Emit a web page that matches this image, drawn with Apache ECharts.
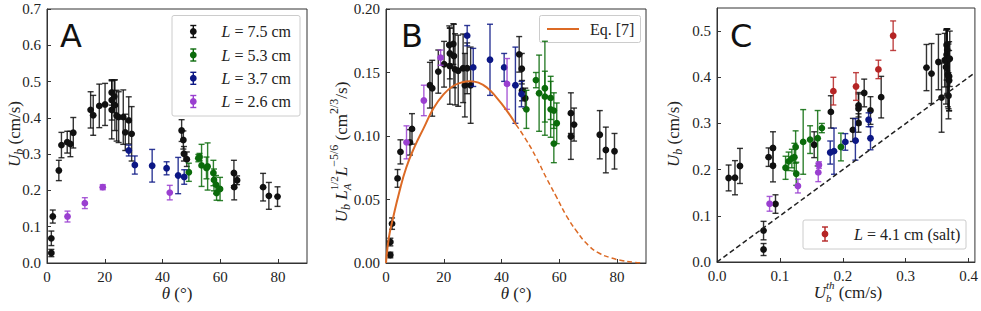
<!DOCTYPE html>
<html><head><meta charset="utf-8">
<script src="https://cdn.jsdelivr.net/npm/echarts@6/dist/echarts.min.js"></script>
<style>html,body{margin:0;padding:0;background:#fff}#c{width:981px;height:311px}</style>
</head><body><div id="c"></div>
<script>
// ---------- Panel A: U_b vs theta ----------
const aBlackTheta = [1.5,1.5,2.0,4.1,5.0,7.0,8.1,9.1,15.1,16.0,18.1,20.1,22.4,22.4,22.4,23.3,23.5,24.1,24.8,26.4,27.1,28.3,29.3,46.6,47.2,47.4,48.4,64.7,64.8,65.8,74.8,76.8,79.8];
const aBlackUb    = [0.0275,0.068,0.128,0.255,0.325,0.333,0.328,0.359,0.422,0.407,0.433,0.437,0.470,0.449,0.422,0.459,0.435,0.406,0.402,0.402,0.360,0.393,0.356,0.365,0.339,0.301,0.286,0.248,0.209,0.228,0.209,0.185,0.183];
const aBlackErr   = [0.010,0.020,0.018,0.028,0.035,0.030,0.035,0.042,0.050,0.055,0.060,0.058,0.035,0.055,0.080,0.045,0.070,0.070,0.070,0.075,0.050,0.065,0.075,0.030,0.025,0.020,0.020,0.035,0.035,0.012,0.038,0.037,0.027];
const aGreenTheta = [49.1,52.4,52.8,53.5,55.2,55.6,57.6,57.8,58.5,58.7,59.9];
const aGreenUb    = [0.250,0.289,0.292,0.269,0.262,0.266,0.248,0.229,0.216,0.193,0.204];
const aGreenErr   = [0.025,0.010,0.010,0.058,0.030,0.065,0.035,0.030,0.025,0.020,0.032];
const aBlueTheta  = [28.3,30.4,36.4,41.4,45.4,47.5];
const aBlueUb     = [0.310,0.270,0.268,0.261,0.241,0.237];
const aBlueErr    = [0.015,0.025,0.045,0.018,0.050,0.020];
const aPurpleTheta= [7.1,13.1,19.3,42.5];
const aPurpleUb   = [0.128,0.165,0.209,0.194];
const aPurpleErr  = [0.015,0.015,0.007,0.020];

// ---------- Panel B: scaled velocity vs theta ----------
const bBlackTheta = [1.5,1.5,2.1,4.0,5.0,8.3,9.0,15.2,16.0,18.1,20.1,21.9,22.1,22.1,23.3,23.5,23.9,25.0,26.7,27.3,28.1,29.3,46.1,47.0,47.1,48.2,64.0,64.0,65.1,74.0,76.1,79.1];
const bBlackVal   = [0.0063,0.0165,0.031,0.0666,0.0875,0.095,0.1056,0.140,0.1376,0.1507,0.1565,0.1717,0.165,0.155,0.1724,0.163,0.1525,0.1514,0.1533,0.140,0.1533,0.140,0.1643,0.153,0.1357,0.1297,0.118,0.0996,0.109,0.101,0.089,0.088];
const bBlackErr   = [0.0022,0.003,0.0045,0.007,0.0095,0.010,0.012,0.018,0.022,0.017,0.018,0.015,0.020,0.030,0.016,0.025,0.028,0.028,0.027,0.025,0.020,0.030,0.014,0.012,0.008,0.008,0.016,0.018,0.013,0.019,0.018,0.014];
const bGreenTheta = [48.6,51.9,53.0,55.0,55.0,57.0,57.0,58.1,58.1,59.1];
const bGreenVal   = [0.121,0.144,0.1337,0.1376,0.131,0.130,0.121,0.120,0.094,0.110];
const bGreenErr   = [0.015,0.006,0.030,0.037,0.020,0.017,0.022,0.014,0.015,0.016];
const bBlueTheta  = [28.1,30.2,36.0,40.9,44.8,46.9];
const bBlueVal    = [0.179,0.154,0.160,0.154,0.140,0.133];
const bBlueErr    = [0.008,0.015,0.028,0.011,0.030,0.010];
const bPurpleTheta= [7.1,13.1,18.9,41.9];
const bPurpleVal  = [0.095,0.128,0.1617,0.141];
const bPurpleErr  = [0.013,0.012,0.006,0.020];
// Eq. [7] curve (solid up to 45 deg, dashed beyond)
const eqSolidTheta = [0,1,2.5,4.5,7,10,13,16.5,20,23,26,29,32,35,38,41.5,45];
const eqSolidVal   = [0,0.020,0.036,0.055,0.075,0.092,0.106,0.122,0.133,0.139,0.142,0.1432,0.142,0.138,0.131,0.121,0.109];
const eqDashTheta  = [45,48.5,52,55.5,59,62.5,66,70,74,78,82,86,89];
const eqDashVal    = [0.109,0.097,0.083,0.067,0.052,0.037,0.025,0.014,0.0075,0.004,0.0018,0.0005,0];

// ---------- Panel C: U_b vs U_b^th ----------
const cBlackX  = [0.0185,0.0286,0.0365,0.074,0.074,0.082,0.089,0.089,0.093,0.1545,0.181,0.216,0.225,0.225,0.225,0.234,0.244,0.261,0.333,0.341,0.352,0.362,0.365,0.365,0.364,0.366,0.366,0.367,0.368,0.369,0.368,0.369,0.357,0.370];
const cBlackY  = [0.182,0.1825,0.208,0.068,0.027,0.227,0.247,0.2085,0.1255,0.254,0.325,0.286,0.339,0.332,0.301,0.366,0.328,0.357,0.421,0.408,0.433,0.437,0.470,0.449,0.422,0.459,0.435,0.406,0.402,0.402,0.360,0.393,0.356,0.440];
const cBlackE  = [0.028,0.037,0.038,0.020,0.013,0.020,0.035,0.035,0.020,0.028,0.035,0.025,0.025,0.035,0.020,0.030,0.030,0.045,0.050,0.065,0.060,0.058,0.035,0.055,0.080,0.045,0.070,0.070,0.070,0.075,0.050,0.065,0.075,0.060];
const cGreenX  = [0.109,0.1138,0.119,0.123,0.125,0.126,0.137,0.148,0.160,0.1667,0.197];
const cGreenY  = [0.204,0.218,0.224,0.227,0.249,0.191,0.260,0.265,0.268,0.290,0.249];
const cGreenE  = [0.025,0.020,0.020,0.030,0.035,0.025,0.070,0.030,0.060,0.010,0.030];
const cBlueX   = [0.180,0.186,0.204,0.220,0.241,0.244];
const cBlueY   = [0.237,0.240,0.260,0.2655,0.308,0.268];
const cBlueE   = [0.025,0.050,0.018,0.045,0.015,0.025];
const cPurpleX = [0.0836,0.1286,0.161,0.162];
const cPurpleY = [0.126,0.1645,0.194,0.210];
const cPurpleE = [0.016,0.015,0.020,0.007];
const cRedX    = [0.185,0.221,0.2566,0.280];
const cRedY    = [0.370,0.380,0.417,0.490];
const cRedE    = [0.030,0.030,0.020,0.032];
const refLineX = [0, 0.41];
const refLineY = [0, 0.41];

// ---------- tick settings ----------
const thetaTicks = {min:0, max:90, interval:20};
const aYTicks = {min:0, max:0.7, interval:0.1};
const bYTicks = {min:0, max:0.2, interval:0.05};
const cXTicks = {min:0, max:0.41, interval:0.1};
const cYTicks = {min:0, max:0.55, interval:0.1};

const COL = {black:'#111111', green:'#0b6b0b', blue:'#0c1785', purple:'#9a3fd0', red:'#b52424', orange:'#dc6a25'};
const SERIF = 'Liberation Serif';

const chart = echarts.init(document.getElementById('c'), null, {renderer:'svg'});

function errSeries(name, color, xs, ys, es, idx) {
  return {
    type:'custom', name, xAxisIndex: idx, yAxisIndex: idx,
    data: xs.map((x,i)=>[x, ys[i], es[i]]),
    encode:{x:0, y:1},
    renderItem(params, api) {
      const x = api.value(0), y = api.value(1), e = api.value(2);
      const c = api.coord([x,y]), lo = api.coord([x,y-e]), hi = api.coord([x,y+e]);
      const ls = {stroke:color, lineWidth:1.4, opacity:0.85};
      return {type:'group', children:[
        {type:'line', shape:{x1:c[0],y1:lo[1],x2:c[0],y2:hi[1]}, style:ls},
        {type:'line', shape:{x1:c[0]-3,y1:lo[1],x2:c[0]+3,y2:lo[1]}, style:ls},
        {type:'line', shape:{x1:c[0]-3,y1:hi[1],x2:c[0]+3,y2:hi[1]}, style:ls},
        {type:'circle', shape:{cx:c[0],cy:c[1],r:3.4}, style:{fill:color}}
      ]};
    }
  };
}
function lineSeries(name, color, xs, ys, idx, dashed, width) {
  return {type:'line', name, xAxisIndex:idx, yAxisIndex:idx, data: xs.map((x,i)=>[x, ys[i]]),
    showSymbol:false, symbol:'none', smooth:true, silent:true,
    lineStyle:{color, width, type: dashed ? [5,3] : 'solid'}};
}

const labelStyle = {fontFamily:SERIF, fontSize:15, color:'#222', margin:6};
const axisCommon = {
  type:'value',
  axisLine:{show:true, onZero:false, lineStyle:{color:'#333', width:1}},
  axisTick:{show:true, inside:true, length:4, lineStyle:{color:'#333', width:1}},
  splitLine:{show:false}
};
function ax(idx, ticks, dec, hideMax) {
  return Object.assign({}, axisCommon, ticks, {gridIndex:idx,
    axisLabel:Object.assign({}, labelStyle, {formatter: v => v.toFixed(dec), showMaxLabel: !hideMax})});
}

// text helper: tokens laid out in a row (sub/superscripts via dy, stacked via stack)
const mctx = document.createElement('canvas').getContext('2d');
function mathText(tokens, px, py, opts) {
  opts = opts || {};
  let x = 0, prevStart = 0, prevW = 0; const items = [];
  for (const t of tokens) {
    const size = t.s || 17;
    mctx.font = (t.i ? 'italic ' : '') + size + 'px "Liberation Serif"';
    const w = mctx.measureText(t.t).width;
    let start;
    if (t.stack) { start = prevStart; x = prevStart + Math.max(prevW, w); }
    else { start = x; x += w; }
    items.push({start, t, size}); prevStart = start; prevW = w;
  }
  const off = opts.align === 'left' ? 0 : -x/2;
  return {type:'group', x:px, y:py, rotation: opts.rot || 0, silent:true,
    children: items.map(it => ({type:'text', x: it.start + off, y: it.t.dy || 0,
      style:{text: it.t.t, fontSize: it.size, fontStyle: it.t.i ? 'italic' : 'normal', fontFamily: SERIF,
        fill:'#222', textAlign:'left', textVerticalAlign:'middle', align:'left', verticalAlign:'middle'}}))};
}
function glyph(x, y, color, half) {
  const ls = {stroke:color, lineWidth:1.4};
  return {type:'group', silent:true, children:[
    {type:'line', shape:{x1:x,y1:y-half,x2:x,y2:y+half}, style:ls},
    {type:'line', shape:{x1:x-3,y1:y-half,x2:x+3,y2:y-half}, style:ls},
    {type:'line', shape:{x1:x-3,y1:y+half,x2:x+3,y2:y+half}, style:ls},
    {type:'circle', shape:{cx:x,cy:y,r:3.4}, style:{fill:color}}]};
}
function panelLetter(t, x, y) {
  return {type:'text', x, y, silent:true, style:{text:t, fontSize:32, fontFamily:'DejaVu Sans', fill:'#111', textVerticalAlign:'middle', verticalAlign:'middle'}};
}
const legendA = [['7.5',COL.black],['5.3',COL.green],['3.7',COL.blue],['2.6',COL.purple]];
const legendRows = [31.5, 55, 78.3, 101.5];

const graphics = [
  {type:'rect', shape:{x:172, y:15.5, width:128, height:100.5, r:2}, style:{fill:'rgba(255,255,255,0.8)', stroke:'#cccccc', lineWidth:1}, silent:true},
  ...legendA.map((l,i)=>glyph(193.3, legendRows[i], l[1], 6)),
  ...legendA.map((l,i)=>mathText([{t:'L', i:true, s:16},{t:' = '+l[0]+' cm', s:16}], 221.5, legendRows[i], {align:'left'})),
  {type:'rect', shape:{x:539.5, y:15.5, width:101, height:27, r:2}, style:{fill:'rgba(255,255,255,0.8)', stroke:'#cccccc', lineWidth:1}, silent:true},
  {type:'line', shape:{x1:547, y1:29, x2:579, y2:29}, style:{stroke:COL.orange, lineWidth:2}, silent:true},
  mathText([{t:'Eq. [7]', s:16}], 590, 29, {align:'left'}),
  {type:'rect', shape:{x:803, y:220, width:163, height:29, r:2}, style:{fill:'rgba(255,255,255,0.8)', stroke:'#cccccc', lineWidth:1}, silent:true},
  glyph(825, 234, COL.red, 7),
  mathText([{t:'L', i:true, s:16},{t:' = 4.1 cm (salt)', s:16}], 854, 234.5, {align:'left'}),
  panelLetter('A', 60, 36), panelLetter('B', 401, 36), panelLetter('C', 730, 36),
  // axis titles
  mathText([{t:'θ', i:true},{t:' (°)'}], 177, 293),
  mathText([{t:'θ', i:true},{t:' (°)'}], 516, 293),
  mathText([{t:'U', i:true},{t:'b', i:true, s:11, dy:6},{t:'th', i:true, s:11, dy:-7, stack:true},{t:' (cm/s)'}], 848, 292),
  mathText([{t:'U', i:true},{t:'b', i:true, s:12, dy:5},{t:' (cm/s)'}], 14, 134, {rot:Math.PI/2}),
  mathText([{t:'U', i:true},{t:'b', i:true, s:12, dy:5},{t:' (cm/s)'}], 673, 134, {rot:Math.PI/2}),
  mathText([{t:'U', i:true},{t:'b', i:true, s:12, dy:5},{t:' '},{t:'L', i:true},{t:'A', i:true, s:11, dy:6},{t:'1/2', s:11, dy:-7, stack:true},
            {t:'L', i:true},{t:'−5/6', s:12, dy:-7},{t:' (cm'},{t:'2/3', s:12, dy:-7},{t:'/s)'}], 341, 152, {rot:Math.PI/2})
];

const option = {
  animation:false,
  backgroundColor:'#ffffff',
  textStyle:{fontFamily:SERIF},
  grid:[
    {left:47, top:9, width:260, height:254, show:true, borderColor:'#333', borderWidth:1},
    {left:386, top:9, width:260, height:254, show:true, borderColor:'#333', borderWidth:1},
    {left:717, top:8, width:259, height:254, show:true, borderColor:'#333', borderWidth:1}
  ],
  xAxis:[ax(0, thetaTicks, 0, true), ax(1, thetaTicks, 0, true), ax(2, cXTicks, 1, true)],
  yAxis:[ax(0, aYTicks, 1, false), ax(1, bYTicks, 2, false), ax(2, cYTicks, 1, true)],
  series:[
    errSeries('L = 7.5 cm', COL.black, aBlackTheta, aBlackUb, aBlackErr, 0),
    errSeries('L = 5.3 cm', COL.green, aGreenTheta, aGreenUb, aGreenErr, 0),
    errSeries('L = 3.7 cm', COL.blue, aBlueTheta, aBlueUb, aBlueErr, 0),
    errSeries('L = 2.6 cm', COL.purple, aPurpleTheta, aPurpleUb, aPurpleErr, 0),
    lineSeries('Eq. [7]', COL.orange, eqSolidTheta, eqSolidVal, 1, false, 2),
    lineSeries('Eq. [7] (extrapolated)', COL.orange, eqDashTheta, eqDashVal, 1, true, 1.5),
    errSeries('L = 7.5 cm', COL.black, bBlackTheta, bBlackVal, bBlackErr, 1),
    errSeries('L = 5.3 cm', COL.green, bGreenTheta, bGreenVal, bGreenErr, 1),
    errSeries('L = 3.7 cm', COL.blue, bBlueTheta, bBlueVal, bBlueErr, 1),
    errSeries('L = 2.6 cm', COL.purple, bPurpleTheta, bPurpleVal, bPurpleErr, 1),
    lineSeries('U = U_th', '#222', refLineX, refLineY, 2, true, 1.5),
    errSeries('L = 7.5 cm', COL.black, cBlackX, cBlackY, cBlackE, 2),
    errSeries('L = 5.3 cm', COL.green, cGreenX, cGreenY, cGreenE, 2),
    errSeries('L = 3.7 cm', COL.blue, cBlueX, cBlueY, cBlueE, 2),
    errSeries('L = 2.6 cm', COL.purple, cPurpleX, cPurpleY, cPurpleE, 2),
    errSeries('L = 4.1 cm (salt)', COL.red, cRedX, cRedY, cRedE, 2)
  ],
  graphic: graphics
};
chart.setOption(option);
</script></body></html>
